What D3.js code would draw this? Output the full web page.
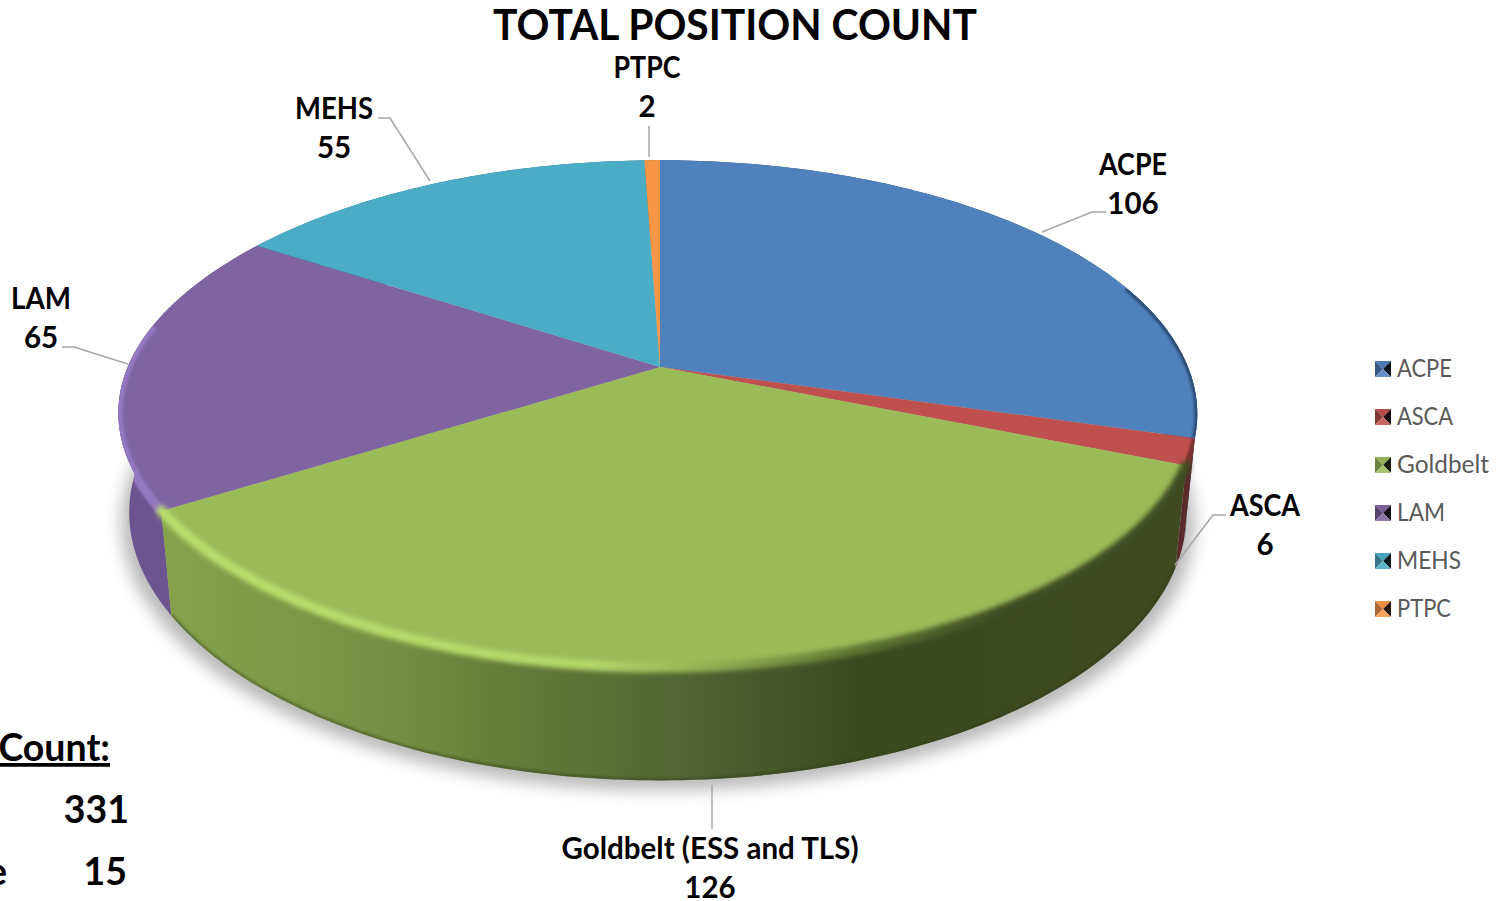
<!DOCTYPE html>
<meta charset="utf-8">
<style>
body { margin: 0; background: #fff; }
svg { display: block; }
text { font-family: Lato, "Open Sans", sans-serif; }
.title { font-size: 42px; font-weight: 700; fill: #000; text-anchor: middle; }
.label { font-size: 29.5px; font-weight: 700; fill: #000; text-anchor: middle; }
.legend text { font-size: 25px; fill: #595959; }
.leader { fill: none; stroke: #a6a6a6; stroke-width: 1.5px; }
.note { font-size: 37.5px; font-weight: 700; fill: #000; text-anchor: end; }
</style>
<svg width="1501" height="901"></svg>
<script src="https://d3js.org/d3.v7.min.js"></script>
<script>
var names = ["ACPE", "ASCA", "Goldbelt", "LAM", "MEHS", "PTPC"];
var values = [106, 6, 126, 65, 55, 2];
var colors = ["#4f81bd", "#c0504d", "#9bbb59", "#8064a2", "#4bacc6", "#f79646"];
var sideColors = ["#2f4d72", "#5c2a2a", "url(#greenSide)", "#6b5490", "#2d6a7c", "#a0602a"];
var labelNames = ["ACPE", "ASCA", "Goldbelt (ESS and TLS)", "LAM", "MEHS", "PTPC"];

// Lato runs wider than the font of the original, so names get squeezed to these
var labelWidths = [68, 70, 297, 60, 78, 67];
var legendWidths = [55, 56, 92, 48, 64, 54];

var svg = d3.select("svg");
var defs = svg.append("defs");

// perspective of the disc, fitted on the picture
var cx = 660, cy = 367, A = 528, B = 245, k = 0.185, bulge = 4.5;
var depth = 97, depthK = 0.14, bottomScale = 0.98;

function topPoint(a) {
  var u = Math.sin(a), v = -Math.cos(a), w = 1 - k * v;
  var x = cx + A * u / w;
  // the left side of the original sticks out a bit more than a clean ellipse
  if (u < 0) x += bulge * u * Math.pow(1 - (v - 0.12) * (v - 0.12), 3);
  return [x, cy + B * v / w];
}
function footPoint(a) {
  var p = topPoint(a), w = 1 + depthK * Math.cos(a);
  return [cx + (p[0] - cx) * bottomScale, p[1] + depth / w];
}
function samples(a0, a1) {
  var s = d3.range(a0, a1, Math.PI / 180);
  s.push(a1);
  return s;
}
var line = d3.line();

var arcs = d3.pie().sort(null).startAngle(0).endAngle(2 * Math.PI)(values);

function topPath(d) {
  return line([[cx, cy]].concat(samples(d.startAngle, d.endAngle).map(topPoint))) + "Z";
}
function sidePath(d) {
  var s = samples(d.startAngle, d.endAngle);
  return line(s.map(topPoint).concat(s.reverse().map(footPoint))) + "Z";
}

function addBlur(id, dev) {
  defs.append("filter").attr("id", id)
      .attr("x", "-10%").attr("y", "-10%").attr("width", "120%").attr("height", "120%")
    .append("feGaussianBlur").attr("stdDeviation", dev);
}
addBlur("blur8", 8);
addBlur("blur2", 2.5);
addBlur("blur1", 1.2);

function gradient(id, x1, x2, stops) {
  var g = defs.append("linearGradient").attr("id", id)
      .attr("gradientUnits", "userSpaceOnUse")
      .attr("x1", x1).attr("x2", x2).attr("y1", 0).attr("y2", 0);
  stops.forEach(function(s) {
    g.append("stop").attr("offset", s[0]).attr("stop-color", s[1]);
  });
}
gradient("greenSide", 165, 1185, [[0, "#87a24b"], [0.23, "#748f42"], [0.33, "#657d3a"], [0.52, "#516231"], [0.68, "#3c4a20"], [1, "#3f4a22"]]);
gradient("greenRim", 165, 1185, [[0, "#b7df6c"], [0.42, "#b2d968"], [0.55, "#8fa950"], [0.68, "#5f7431"], [0.82, "#3f4d22"], [1, "#3f4d22"]]);

arcs.forEach(function(d, i) {
  var c = defs.append("clipPath").attr("id", "clip" + i);
  c.append("path").attr("d", topPath(d));
  c.append("path").attr("d", sidePath(d));
  defs.append("clipPath").attr("id", "sideClip" + i).append("path").attr("d", sidePath(d));
});

// soft shadow under the disc
svg.append("path")
    .attr("d", line(samples(0, 2 * Math.PI).map(function(a) {
      var p = footPoint(a);
      return [cx + (p[0] - cx) * 1.015, p[1] + 10];
    })) + "Z")
    .attr("fill", "#808080")
    .attr("opacity", 0.55)
    .attr("filter", "url(#blur8)");

// rim walls, back first
[0, 5, 4, 3, 1, 2].forEach(function(i) {
  svg.append("path").attr("d", sidePath(arcs[i])).attr("fill", sideColors[i]);
});

// darker foot of the wall
var foot = svg.append("g").attr("clip-path", "url(#sideClip2)");
foot.append("path")
    .attr("d", line(samples(arcs[2].startAngle, arcs[2].endAngle).map(footPoint)))
    .attr("fill", "none").attr("stroke", "#2f3a14").attr("stroke-width", 5)
    .attr("opacity", 0.4).attr("filter", "url(#blur1)");

// top faces
svg.selectAll(".slice")
  .data(arcs)
  .join("path")
    .attr("class", "slice")
    .attr("d", topPath)
    .attr("fill", function(d, i) { return colors[i]; });

// bevel along the rim
var bevels = [
  {i: 0, from: 70, to: 106, color: "#2c4d78", width: 6},
  {i: 1, from: 106, to: 112, color: "#7a3230", width: 6},
  {i: 3, from: 238, to: 280, color: "#9478bf", width: 9}
];
bevels.forEach(function(b) {
  svg.append("g").attr("clip-path", "url(#clip" + b.i + ")")
    .append("path")
      .attr("d", line(samples(b.from * Math.PI / 180, b.to * Math.PI / 180).map(topPoint)))
      .attr("fill", "none").attr("stroke", b.color).attr("stroke-width", b.width)
      .attr("filter", "url(#blur1)");
});
svg.append("path")
    .attr("d", line(samples(arcs[2].startAngle, arcs[2].endAngle).map(topPoint)))
    .attr("fill", "none")
    .attr("stroke", "url(#greenRim)")
    .attr("stroke-width", 10)
    .attr("stroke-linecap", "round")
    .attr("filter", "url(#blur2)");

// title
svg.append("text").attr("class", "title").attr("x", 735).attr("y", 40)
    .attr("textLength", 484).attr("lengthAdjust", "spacingAndGlyphs")
    .text("TOTAL POSITION COUNT");

// data labels
var labelPos = [[1133, 175], [1265, 516], [710, 859], [41, 309], [334, 119], [647, 78]];
var leaders = [
  [[1106, 212], [1092, 212], [1042, 232]],
  [[1226, 515], [1213, 515], [1175, 565]],
  [[712, 785], [712, 829]],
  [[62, 347], [74, 347], [128, 364]],
  [[378, 118], [390, 118], [430, 181]],
  [[649, 126], [649, 157]]
];
svg.selectAll(".leader")
  .data(leaders)
  .join("path")
    .attr("class", "leader")
    .attr("d", line);

var labels = svg.selectAll(".labelGroup")
  .data(values)
  .join("g")
    .attr("class", "labelGroup")
    .attr("transform", function(d, i) { return "translate(" + labelPos[i] + ")"; });
labels.append("text").attr("class", "label")
    .attr("textLength", function(d, i) { return labelWidths[i]; })
    .attr("lengthAdjust", "spacingAndGlyphs")
    .text(function(d, i) { return labelNames[i]; });
labels.append("text").attr("class", "label").attr("y", 39).text(function(d) { return d; });

// legend
var legendY = d3.scalePoint().domain(names).range([369, 609]);
var legend = svg.append("g").attr("class", "legend")
  .selectAll("g")
  .data(names)
  .join("g")
    .attr("transform", function(d) { return "translate(1375," + (legendY(d) - 8) + ")"; });

function swatchFace(points, shade, amount) {
  legend.append("path")
      .attr("d", line(points) + "Z")
      .attr("fill", function(d, i) { return d3.interpolateRgb(colors[i], shade)(amount); });
}
swatchFace([[0, 0], [16, 0], [8, 8]], "#000", 0.05);
swatchFace([[0, 0], [8, 8], [0, 16]], "#000", 0.3);
swatchFace([[16, 0], [16, 16], [8, 8]], "#000", 0.85);
swatchFace([[0, 16], [8, 8], [16, 16]], "#fff", 0.12);
legend.append("text").attr("x", 22).attr("y", 7).attr("dy", "0.35em")
    .attr("textLength", function(d, i) { return legendWidths[i]; })
    .attr("lengthAdjust", "spacingAndGlyphs")
    .text(function(d) { return d; });

// text box cut off by the left edge of the slide
svg.append("text").attr("class", "note").attr("x", 110).attr("y", 761)
    .attr("text-decoration", "underline").text("Count:");
svg.append("text").attr("class", "note").attr("x", 129).attr("y", 823).text("331");
svg.append("text").attr("class", "note").attr("x", 7).attr("y", 885).text("e");
svg.append("text").attr("class", "note").attr("x", 127).attr("y", 885).text("15");
</script>
